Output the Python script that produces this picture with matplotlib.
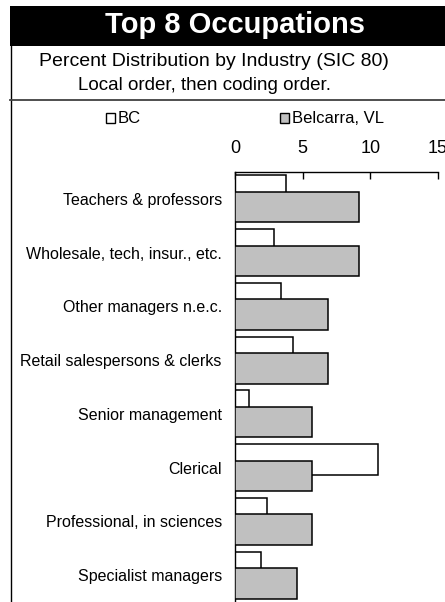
import matplotlib
matplotlib.use('Agg')
import matplotlib.pyplot as plt
from matplotlib.patches import Rectangle
from matplotlib.lines import Line2D
import numpy as np

plt.rcParams['font.family'] = ['Liberation Sans', 'DejaVu Sans']

categories = [
    'Teachers & professors',
    'Wholesale, tech, insur., etc.',
    'Other managers n.e.c.',
    'Retail salespersons & clerks',
    'Senior management',
    'Clerical',
    'Professional, in sciences',
    'Specialist managers',
]
bc = [3.77, 2.90, 3.38, 4.26, 1.06, 10.54, 2.34, 1.92]
belcarra = [9.14, 9.14, 6.86, 6.86, 5.71, 5.71, 5.71, 4.57]
series_names = ['BC', 'Belcarra, VL']
x_ticks = [0, 5, 10, 15]

W, H = 445, 602
fig = plt.figure(figsize=(W / 100, H / 100), dpi=100)


def fx(px):
    return px / W


def fy(py):
    return 1 - py / H


# Title bar
fig.patches.append(Rectangle((fx(10), fy(46)), 1, (46 - 6) / H,
                             transform=fig.transFigure, facecolor='black',
                             edgecolor='none'))
fig.text(fx(235), fy(33), 'Top 8 Occupations', color='white', fontsize=21,
         fontweight='bold', ha='center', va='baseline')
fig.text(fx(214), fy(65.5), 'Percent Distribution by Industry (SIC 80)',
         fontsize=14, ha='center', va='baseline')
fig.text(fx(204), fy(89.5), 'Local order, then coding order.',
         fontsize=13.5, ha='center', va='baseline')

# Frame lines
fig.add_artist(Line2D([fx(10.5), fx(10.5)], [fy(46), 0],
                      transform=fig.transFigure, color='black', lw=1))
fig.add_artist(Line2D([fx(10), 1], [fy(100), fy(100)],
                      transform=fig.transFigure, color='#404040', lw=1.3))

# Legend (manual)
fills = ['white', '#c0c0c0']
leg_x = [106, 280]
for name, fc, lx in zip(series_names, fills, leg_x):
    fig.patches.append(Rectangle((fx(lx), fy(122.5)), 9 / W, 9 / H,
                                 transform=fig.transFigure, facecolor=fc,
                                 edgecolor='black', lw=1))
    fig.text(fx(lx + 11.5), fy(118), name, fontsize=12, ha='left',
             va='center')

# Axes
ax = fig.add_axes([fx(235), 0, (438 - 235) / W, fy(172)])
y = np.arange(len(categories))
h = 0.565
off = 0.153
ax.barh(y - off, bc, height=h, color='white', edgecolor='black', lw=1.1,
        zorder=2)
ax.barh(y + off, belcarra, height=h, color='#c0c0c0', edgecolor='black',
        lw=1.1, zorder=3)

ax.set_xlim(0, 15)
ax.set_ylim(7.5, -0.5)
ax.set_xticks(x_ticks)
ax.set_xticklabels([str(t) for t in x_ticks], fontsize=13)
ax.xaxis.tick_top()
ax.tick_params(axis='x', direction='in', length=5, width=1, pad=11,
               colors='black')
ax.set_yticks(y)
ax.set_yticklabels(categories, fontsize=11.5)
ax.tick_params(axis='y', length=0, pad=9.5)
for s in ['right', 'bottom']:
    ax.spines[s].set_visible(False)
ax.spines['top'].set_linewidth(1)
ax.spines['left'].set_linewidth(1)
ax.patch.set_alpha(0)

fig.savefig('out.png', dpi=100)
